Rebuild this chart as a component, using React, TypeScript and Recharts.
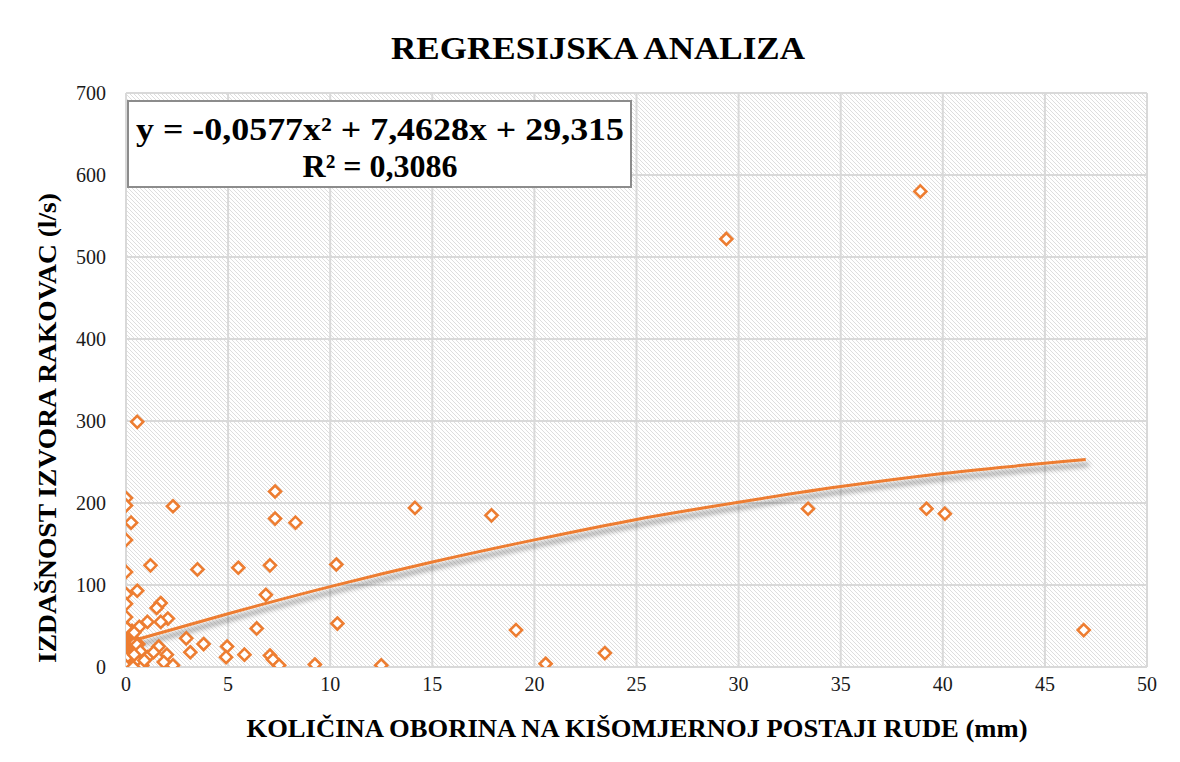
import React from 'react';
import { ComposedChart, Scatter, Line, XAxis, YAxis, CartesianGrid } from 'recharts';

// precipitation at Rude (mm) and Rakovac spring yield (l/s)
const rainMm = [
  29.4, 38.9, 0.55, 7.3, 0, 0, 0.25, 0, 2.3, 7.3, 8.3, 0, 1.2, 3.5, 5.5, 7.05, 10.3,
  0.55, 0, 6.85, 0, 1.7, 1.5, 0, 2.05, 1.05, 1.7, 0.65, 6.4, 10.35, 2.95, 3.8, 1.6,
  4.95, 3.15, 4.9, 5.8, 7.05, 7.2, 7.5, 9.25, 2.0, 2.3, 1.85, 0.8, 1.05, 1.35, 0, 0,
  14.15, 17.9, 12.5, 33.4, 39.2, 40.1, 19.1, 20.55, 23.45, 46.9, 0.6,
  0.45, 0.5, 0.54, 0.7, 0.9, 0.4, 0.4, 0.35,
];
const yieldLs = [
  522, 580, 299, 214, 206, 197, 176, 155, 196, 181, 176, 116, 124, 119, 121, 124, 125,
  93, 89, 88, 77, 78, 72, 61, 59, 55, 55, 49, 47, 53, 35, 28, 25,
  25, 18, 12, 15, 14, 9, 2, 3, 15, 2, 6, 2, 12, 18, 11, 1,
  194, 185, 2, 193, 193, 187, 45, 4, 17, 45, 28,
  30, 8, 27, 19, 8, 15, 42, 0,
];

// dense cluster of dry days next to the y axis
const clusterMm = [
  0.3, 0.3, 0.3, 0.3, 0.3, 0.3,
  0.2, 0.2, 0.2, 0.2, 0.2, 0.2, 0.2, 0.2, 0.2, 0.2, 0.2,
  0.1, 0.1, 0.1, 0.1, 0.1, 0.1, 0.1, 0.1, 0.1, 0.1, 0.1, 0.1, 0.1, 0.1, 0.1, 0.1,
  0, 0, 0, 0, 0, 0, 0, 0, 0, 0, 0, 0, 0, 0, 0, 0, 0, 0, 0, 0, 0, 0, 0, 0, 0,
];
const clusterLs = [
  5, 12, 20, 27, 35, 44,
  2, 6, 10, 14, 18, 22, 26, 30, 34, 38, 42,
  1, 4, 7, 10, 13, 16, 19, 22, 25, 28, 31, 34, 37, 40, 43, 46,
  0, 2, 4, 6, 8, 10, 12, 14, 16, 18, 20, 22, 24, 26, 28, 30, 32, 34, 36, 38, 40, 42, 44, 46, 48,
];

// polynomial trend line
const trendX = [0.45, 5, 10, 15, 20, 25, 30, 35, 40, 47];
const trendY = [33, 65, 98, 128, 155, 180, 201, 220, 236, 253];

const xTicks = [0, 5, 10, 15, 20, 25, 30, 35, 40, 45, 50];
const yTicks = [0, 100, 200, 300, 400, 500, 600, 700];

const ORANGE = '#ED7D31';
const FONT = '"Liberation Serif", "Times New Roman", serif';

const points = [
  ...clusterMm.map((x, i) => ({ x, y: clusterLs[i] })),
  ...rainMm.map((x, i) => ({ x, y: yieldLs[i] })),
];
const trend = trendX.map((x, i) => ({ x, y: trendY[i] }));

const Diamond = (props: any) => {
  const { cx, cy } = props;
  if (cx == null || cy == null) return null;
  const r = 6;
  return (
    <path
      d={`M${cx},${cy - r}L${cx + r},${cy}L${cx},${cy + r}L${cx - r},${cy}Z`}
      fill="#fff"
      stroke={ORANGE}
      strokeWidth={2.6}
    />
  );
};

const XTick = (props: any) => {
  const { x, y, payload } = props;
  return (
    <text x={x} y={y + 16} textAnchor="middle" fontFamily={FONT} fontSize={20} fill="#1a1a1a">
      {payload.value}
    </text>
  );
};

const YTick = (props: any) => {
  const { x, y, payload } = props;
  return (
    <text x={x} y={y + 7} textAnchor="end" fontFamily={FONT} fontSize={20} fill="#1a1a1a">
      {payload.value}
    </text>
  );
};

export default function App() {
  return (
    <div style={{ position: 'relative', width: 1180, height: 762, marginLeft: -8, marginTop: -8, background: '#fff', overflow: 'hidden' }}>
      <div style={{ position: 'absolute', left: 4, top: 6, width: 1190, height: 780, border: '2px solid #d9d9d9', boxSizing: 'border-box' }} />
      <ComposedChart
        width={1180}
        height={762}
        margin={{ top: 93, right: 33, bottom: 55, left: 66 }}
        style={{ position: 'absolute', left: 0, top: 0 }}
      >
        <defs>
          <pattern id="hatch" width="4" height="4" patternUnits="userSpaceOnUse">
            <rect width="4" height="4" fill="#fff" />
            <path d="M-1,3 l2,2 M0,0 l4,4 M3,-1 l2,2" stroke="#dedede" strokeWidth={1} />
          </pattern>
          <filter id="lineShadow" x="-10%" y="-50%" width="120%" height="200%">
            <feDropShadow dx="3" dy="5" stdDeviation="2.5" floodColor="#000" floodOpacity="0.45" />
          </filter>
        </defs>
        <CartesianGrid fill="url(#hatch)" stroke="#d9d9d9" strokeWidth={2} />
        <XAxis
          type="number"
          dataKey="x"
          domain={[0, 50]}
          ticks={xTicks}
          axisLine={false}
          tickLine={false}
          tick={<XTick />}
          height={40}
          allowDataOverflow
        />
        <YAxis
          type="number"
          dataKey="y"
          domain={[0, 700]}
          ticks={yTicks}
          axisLine={false}
          tickLine={false}
          tick={<YTick />}
          tickMargin={14}
          width={60}
          allowDataOverflow
        />
        <Scatter data={points} dataKey="y" shape={<Diamond />} isAnimationActive={false} />
        <Line
          data={trend}
          dataKey="y"
          type="monotone"
          stroke={ORANGE}
          strokeWidth={3}
          dot={false}
          activeDot={false}
          filter="url(#lineShadow)"
          isAnimationActive={false}
        />
      </ComposedChart>
      <svg width={1180} height={762} style={{ position: 'absolute', left: 0, top: 0, pointerEvents: 'none' }}>
        <text x={598} y={59} textAnchor="middle" fontFamily={FONT} fontWeight="bold" fontSize={32} textLength={414} lengthAdjust="spacingAndGlyphs" fill="#000">
          REGRESIJSKA ANALIZA
        </text>
        <text x={637} y={737} textAnchor="middle" fontFamily={FONT} fontWeight="bold" fontSize={26} textLength={781} lengthAdjust="spacingAndGlyphs" fill="#000">
          KOLIČINA OBORINA NA KIŠOMJERNOJ POSTAJI RUDE (mm)
        </text>
        <text
          x={0}
          y={0}
          transform="translate(56,428) rotate(-90)"
          textAnchor="middle"
          fontFamily={FONT}
          fontWeight="bold"
          fontSize={26}
          textLength={470}
          lengthAdjust="spacingAndGlyphs"
          fill="#000"
        >
          IZDAŠNOST IZVORA RAKOVAC (l/s)
        </text>
        <rect x={128} y={101} width={503} height={86} fill="#fff" stroke="#8c8c8c" strokeWidth={2} />
        <text x={380} y={140} textAnchor="middle" fontFamily={FONT} fontWeight="bold" fontSize={32} textLength={488} lengthAdjust="spacingAndGlyphs" fill="#000">
          y = -0,0577x² + 7,4628x + 29,315
        </text>
        <text x={380} y={177} textAnchor="middle" fontFamily={FONT} fontWeight="bold" fontSize={32} fill="#000">
          R² = 0,3086
        </text>
      </svg>
    </div>
  );
}
